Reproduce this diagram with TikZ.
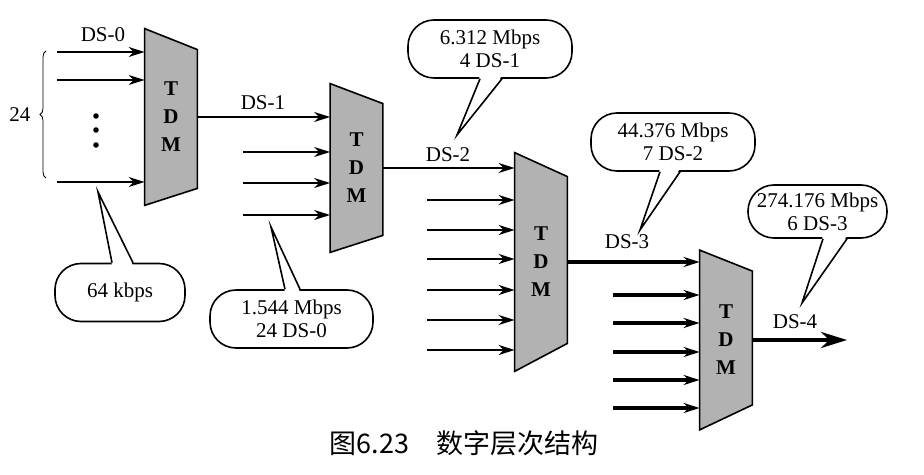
\documentclass[tikz,border=0pt]{standalone}
\usepackage{fontspec}
\setmainfont{Liberation Serif}
\newfontfamily\cjk{Noto Sans CJK SC}
\usetikzlibrary{arrows.meta, positioning, calc, backgrounds, decorations.pathreplacing}

\begin{document}
\begin{tikzpicture}[
        x=0.5pt, y=-0.5pt,
        font=\fontsize{10.5}{12}\selectfont,
        tdm/.style={minimum width=26pt, inner sep=0pt, align=center, font=\fontsize{10.5}{14}\selectfont\bfseries},
        body/.style={draw, thick, fill=black!30},
        feed/.style={-{Stealth[length=8pt, width=5pt]}, line width=#1},
        trunk/.style={-{Stealth[length=13pt, width=8pt]}, line width=2.4pt},
        note/.style={draw, thick, fill=white, rounded corners=13pt, align=center, minimum height=29pt, font=\fontsize{10.5}{11.5}\selectfont},
        tail/.style={thick}
    ]
        \useasboundingbox (0,0) rectangle (924,475);

        % Multiplexers
        \node[tdm, minimum height=88pt] (mux1) at (171,117) {T\\D\\M};
        \node[tdm, minimum height=84pt] (mux2) at (356.5,168) {T\\D\\M};
        \node[tdm, minimum height=109pt] (mux3) at (541,262) {T\\D\\M};
        \node[tdm, minimum height=89.5pt] (mux4) at (726,340) {T\\D\\M};
        \begin{scope}[on background layer]
            \foreach \m/\dt/\db in {mux1/21/17, mux2/20/17, mux3/24/28, mux4/21/25}
                \draw[body] (\m.north west) -- ($(\m.north east)+(0,\dt)$) -- ($(\m.south east)+(0,-\db)$) -- (\m.south west) -- cycle;
        \end{scope}

        % Inputs
        \foreach \y [count=\i] in {52,80,182} {
            \coordinate (a\i) at (57,\y);
            \draw[feed=0.8pt] (a\i) -- (a\i -| mux1.west);
        }
        \foreach \y [count=\i] in {152,183,215} {
            \coordinate (b\i) at (243,\y);
            \draw[feed=1pt] (b\i) -- (b\i -| mux2.west);
        }
        \foreach \y [count=\i] in {200,230,259,290,320,350} {
            \coordinate (c\i) at (427,\y);
            \draw[feed=1.2pt] (c\i) -- (c\i -| mux3.west);
        }
        \foreach \y [count=\i] in {295,323,352,380,408} {
            \coordinate (d\i) at (613,\y);
            \draw[feed=1.6pt] (d\i) -- (d\i -| mux4.west);
        }
        \foreach \y in {116,130,145}
            \fill (96,\y) circle (1.4pt);
        \draw[decorate, decoration={brace, amplitude=3pt}] (46,178) -- (46,51);
        \node (n24) at (20,115) {24};

        % Links
        \draw[feed=1pt] (mux1.east) -- (mux1.east -| mux2.west);
        \draw[feed=1.2pt] (mux2.east) -- (mux2.east -| mux3.west);
        \draw[feed=1.6pt] (mux3.east) -- (mux3.east -| mux4.west);
        \coordinate (ds4end) at (847,340);
        \draw[trunk] (mux4.east) -- (ds4end);

        % Labels
        \node (ds0) at (103,35) {DS-0};
        \node (ds1) at (263,103) {DS-1};
        \node (ds2) at (448,155) {DS-2};
        \node (ds3) at (627,242) {DS-3};
        \node (ds4) at (795,322) {DS-4};

        % Callouts
        \node[note, minimum width=65pt] (c0) at (120,292.5) {64 kbps};
        \node[note, minimum width=81.5pt] (c1) at (291.5,319) {1.544 Mbps\\24 DS-0};
        \node[note, minimum width=82pt] (c2) at (490,49) {6.312 Mbps\\4 DS-1};
        \node[note, minimum width=82pt] (c3) at (673,142) {44.376 Mbps\\7 DS-2};
        \node[note, minimum width=69.5pt, minimum height=26.5pt] (c4) at (817.5,211.5) {274.176 Mbps\\6 DS-3};
        \foreach \c/\side/\dy/\p/\q/\tx/\ty in {c0/north/3/-8/13/98/192, c1/north/3/-6.5/8.5/271/227,
                c2/south/-3/-10/12/457/135, c3/south/-3/-13/7/640/230, c4/south/-3/5.5/29.5/802/303} {
            \coordinate (\c-tip) at (\tx,\ty);
            \fill[white] ($(\c.\side)+(\p,\dy)$) -- (\c-tip) -- ($(\c.\side)+(\q,\dy)$) -- cycle;
            \draw[tail] ($(\c.\side)+(\p,0)$) -- (\c-tip) -- ($(\c.\side)+(\q,0)$);
        }

        % Caption
        \node[font=\cjk\fontsize{13.5}{16}\selectfont] (caption) at (464,443) {图6.23\quad 数字层次结构};
    \end{tikzpicture}
\end{document}
